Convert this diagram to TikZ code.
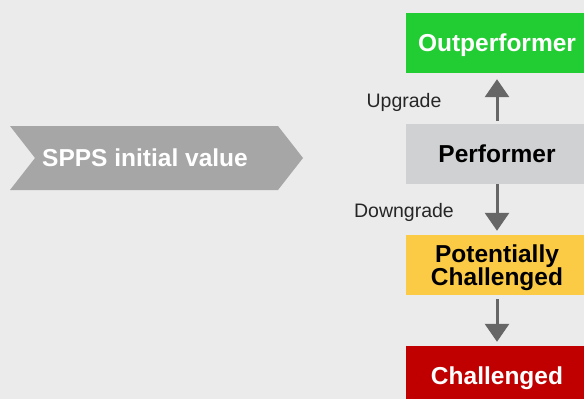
\documentclass[tikz,border=0pt]{standalone}
\usepackage{fontspec}
\setmainfont{Liberation Sans}
\usepackage{xcolor}
\usetikzlibrary{arrows.meta}

\definecolor{bggray}{HTML}{EBEBEB}
\definecolor{chevgray}{HTML}{A6A6A6}
\definecolor{outgreen}{HTML}{22CC33}
\definecolor{perfgray}{HTML}{D0D1D3}
\definecolor{potyellow}{HTML}{FCCB45}
\definecolor{chalred}{HTML}{C00000}
\definecolor{arrowgray}{HTML}{666666}

\begin{document}
\begin{tikzpicture}[x=1pt,y=-1pt,node distance=111pt,
    rating box/.style={minimum width=182pt,minimum height=60pt,inner sep=0pt,align=center,text height=17.5pt,text depth=0pt,font=\fontsize{24.5}{23}\selectfont\bfseries},
    move label/.style={text=black!85,font=\fontsize{19.5}{22}\selectfont},
    grade/.style={draw=arrowgray,line width=3pt,-{Triangle[width=24pt,length=18pt]}}]
            \fill[bggray] (0,0) rectangle (584,399);
            \useasboundingbox (0,0) rectangle (584,399);

            \fill[chevgray] (10,126) -- (278,126) -- (303,158) -- (278,190) -- (10,190) -- (35,158) -- cycle;
            \node[text=white,text height=17.5pt,text depth=0pt,font=\fontsize{24.5}{26}\selectfont\bfseries] (spps) at (145,158) {SPPS initial value};

            \node[rating box,fill=outgreen,text=white] (out) at (497,43) {Outperformer};
            \node[rating box,fill=perfgray] (perf) [below of = out] {Performer};
            \node[rating box,fill=potyellow,text height=40.5pt] (pot) [below of = perf] {Potentially\\Challenged};
            \node[rating box,fill=chalred,text=white] (chal) [below of = pot] {Challenged};

            \node[move label] (up) at (404,102) {Upgrade};
            \node[move label] (down) at (404,212) {Downgrade};

            \path
                (perf) edge[grade,shorten <=3pt,shorten >=6pt] (out)
                (perf) edge[grade,shorten >=4pt] (pot)
                (pot) edge[grade,shorten <=4pt,shorten >=4pt] (chal)
                ;
        \end{tikzpicture}
\end{document}
